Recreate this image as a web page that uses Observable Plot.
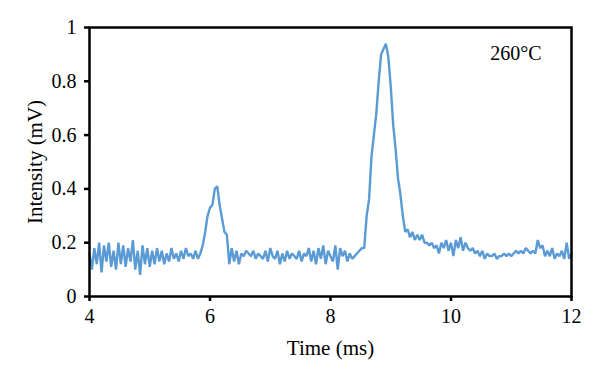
<!DOCTYPE html>
<html>
<head>
<meta charset="utf-8">
<script src="https://cdn.jsdelivr.net/npm/d3@7"></script>
<script src="https://cdn.jsdelivr.net/npm/@observablehq/plot@0.6"></script>
<style>
  html, body { margin: 0; padding: 0; background: #fff; }
  g[aria-label="x-axis label"], g[aria-label="y-axis label"] { font-size: 21px; }
</style>
</head>
<body>
<div id="chart"></div>
<script>
const timeMs = [
  4.00,4.04,4.08,4.12,4.16,4.20,4.24,4.28,4.32,4.36,4.40,4.44,4.48,4.52,4.56,4.60,4.64,4.68,4.72,4.76,4.80,4.84,4.88,4.92,4.96,
  5.00,5.04,5.08,5.12,5.16,5.20,5.24,5.28,5.32,5.36,5.40,5.44,5.48,5.52,5.56,5.60,5.64,5.68,5.72,5.76,5.80,5.84,5.88,5.92,5.96,
  6.00,6.04,6.08,6.12,6.16,6.20,6.24,6.28,6.32,6.36,6.40,6.44,6.48,6.52,6.56,6.60,6.64,6.68,6.72,6.76,6.80,6.84,6.88,6.92,6.96,
  7.00,7.04,7.08,7.12,7.16,7.20,7.24,7.28,7.32,7.36,7.40,7.44,7.48,7.52,7.56,7.60,7.64,7.68,7.72,7.76,7.80,7.84,7.88,7.92,7.96,
  8.00,8.04,8.08,8.12,8.16,8.20,8.24,8.28,8.32,8.36,8.40,8.44,8.48,8.52,8.56,8.60,8.64,8.68,8.72,8.76,8.80,8.84,8.88,8.92,8.96,
  9.00,9.04,9.08,9.12,9.16,9.20,9.24,9.28,9.32,9.36,9.40,9.44,9.48,9.52,9.56,9.60,9.64,9.68,9.72,9.76,9.80,9.84,9.88,9.92,9.96,
  10.00,10.04,10.08,10.12,10.16,10.20,10.24,10.28,10.32,10.36,10.40,10.44,10.48,10.52,10.56,10.60,10.64,10.68,10.72,10.76,10.80,10.84,10.88,10.92,10.96,
  11.00,11.04,11.08,11.12,11.16,11.20,11.24,11.28,11.32,11.36,11.40,11.44,11.48,11.52,11.56,11.60,11.64,11.68,11.72,11.76,11.80,11.84,11.88,11.92,11.96,
  12.00
];
const intensityMv = [
  0.16,0.10,0.18,0.12,0.20,0.09,0.19,0.13,0.20,0.11,0.17,0.10,0.20,0.12,0.19,0.11,0.18,0.13,0.21,0.10,0.17,0.08,0.19,0.12,0.18,
  0.11,0.17,0.12,0.18,0.13,0.17,0.12,0.16,0.13,0.18,0.14,0.16,0.13,0.17,0.14,0.18,0.15,0.16,0.14,0.17,0.14,0.16,0.19,0.24,0.30,
  0.33,0.34,0.40,0.41,0.34,0.29,0.24,0.23,0.12,0.18,0.13,0.17,0.12,0.16,0.15,0.17,0.16,0.15,0.17,0.14,0.16,0.15,0.14,0.17,0.13,
  0.18,0.15,0.14,0.17,0.12,0.16,0.13,0.17,0.14,0.16,0.15,0.14,0.17,0.13,0.16,0.15,0.18,0.13,0.17,0.12,0.18,0.14,0.19,0.12,0.17,
  0.15,0.13,0.19,0.10,0.18,0.15,0.17,0.13,0.16,0.14,0.15,0.16,0.17,0.18,0.18,0.30,0.36,0.52,0.60,0.68,0.80,0.90,0.92,0.94,0.89,
  0.78,0.64,0.55,0.44,0.38,0.30,0.24,0.25,0.22,0.24,0.21,0.23,0.21,0.23,0.20,0.20,0.19,0.20,0.18,0.19,0.16,0.20,0.18,0.21,0.17,
  0.20,0.15,0.21,0.18,0.22,0.17,0.20,0.18,0.17,0.18,0.16,0.17,0.15,0.17,0.14,0.16,0.15,0.15,0.16,0.14,0.15,0.15,0.16,0.15,0.16,
  0.15,0.16,0.17,0.16,0.17,0.16,0.18,0.17,0.16,0.17,0.16,0.21,0.18,0.19,0.15,0.17,0.15,0.18,0.14,0.16,0.15,0.17,0.14,0.20,0.14,
  0.16
];
const xTicks = [4, 6, 8, 10, 12];
const yTicks = [0, 0.2, 0.4, 0.6, 0.8, 1];
const annotation = "260°C";

const data = timeMs.map((t, i) => ({t, v: intensityMv[i]}));
const FS = 20;

const chart = Plot.plot({
  width: 600,
  height: 378,
  marginTop: 27,
  marginBottom: 82,
  marginLeft: 89,
  marginRight: 29,
  style: {fontFamily: "'Liberation Serif', serif", fontSize: "20px", color: "#000", background: "#fff"},
  x: {domain: [4, 12]},
  y: {domain: [0, 1]},
  marks: [
    Plot.line(data, {x: "t", y: "v", stroke: "#5b9bd5", strokeWidth: 2.4, strokeLinejoin: "miter"}),
    Plot.frame({stroke: "#000", strokeWidth: 2.5}),
    Plot.axisX({ticks: xTicks, tickFormat: d => String(d), tickSize: 5, tickPadding: 7, strokeWidth: 2.5,
      fontSize: FS, label: "Time (ms)", labelAnchor: "center", labelArrow: "none", labelOffset: 58}),
    Plot.axisY({ticks: yTicks, tickFormat: d => String(d), tickSize: 5, tickPadding: 8, strokeWidth: 2.5,
      fontSize: FS, label: "Intensity (mV)", labelAnchor: "center", labelArrow: "none", labelOffset: 62}),
    Plot.text([annotation], {frameAnchor: "top-right", dx: -30, dy: 18, text: d => d, fontSize: 20})
  ]
});
document.getElementById("chart").appendChild(chart);
</script>
</body>
</html>
